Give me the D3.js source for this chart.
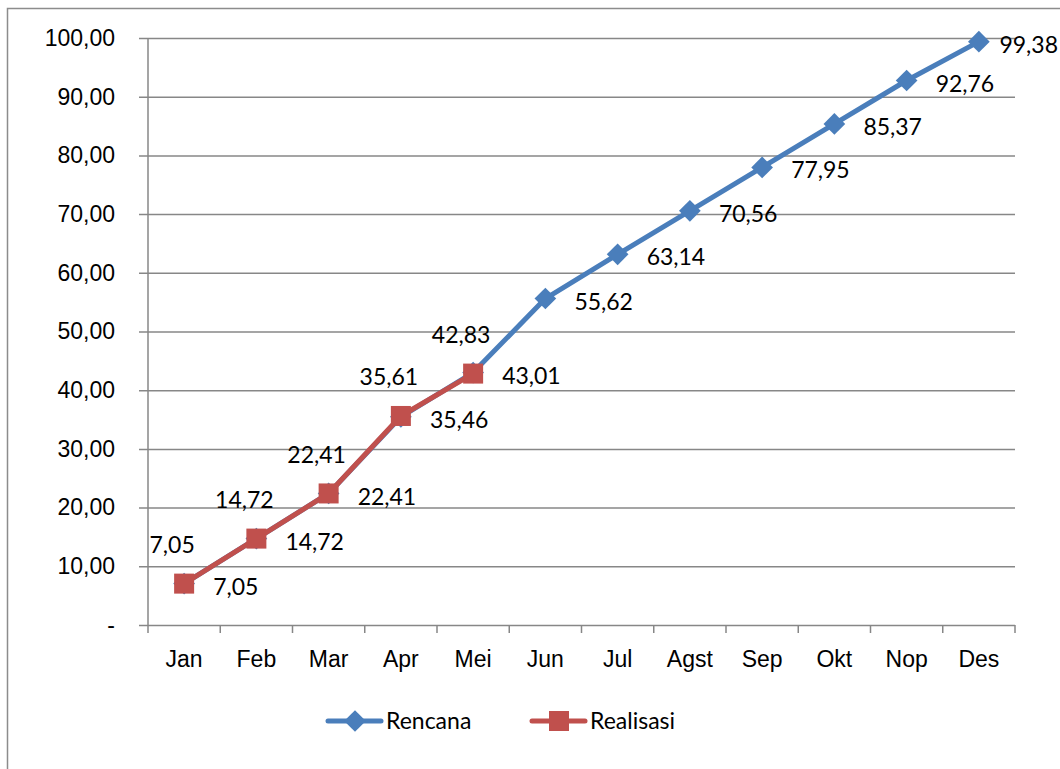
<!DOCTYPE html>
<html>
<head>
    <style>
        body {
            margin: 0;
            background: white;
            font-family: Lato, "Open Sans", sans-serif;
        }
        .tick text {
            font-size: 23px;
            fill: #000;
        }
        .lbl {
            font-size: 23px;
            fill: #000;
        }
    </style>
</head>
<body>
    <div id="chart"></div>
    <script src="https://cdnjs.cloudflare.com/ajax/libs/d3/7.8.5/d3.min.js"></script>
    <script>
        const months = ["Jan", "Feb", "Mar", "Apr", "Mei", "Jun", "Jul", "Agst", "Sep", "Okt", "Nop", "Des"];
        const rencana = [7.05, 14.72, 22.41, 35.46, 43.01, 55.62, 63.14, 70.56, 77.95, 85.37, 92.76, 99.38];
        const realisasi = [7.05, 14.72, 22.41, 35.61, 42.83];
        const yTicks = [0, 10, 20, 30, 40, 50, 60, 70, 80, 90, 100];

        const blue = "#4a7ebb";
        const red = "#c0504d";
        const grid = "#878787";

        const W = 1060, H = 769;
        const margin = { top: 38, right: 45, bottom: 144, left: 148 };
        const width = W - margin.left - margin.right;
        const height = H - margin.top - margin.bottom;

        const fmt = v => v === 0 ? "-" : v.toFixed(2).replace(".", ",");

        const root = d3.select("#chart").append("svg")
            .attr("width", W)
            .attr("height", H);

        // outer frame
        root.append("rect")
            .attr("x", 7.5).attr("y", 8.5)
            .attr("width", W).attr("height", H)
            .attr("fill", "none")
            .attr("stroke", "#8c8c8c")
            .attr("stroke-width", 1.5);

        const svg = root.append("g")
            .attr("transform", `translate(${margin.left},${margin.top})`);

        const x = d3.scaleBand().domain(months).range([0, width]);
        const y = d3.scaleLinear().domain([0, 100]).range([height, 0]);
        const cx = m => x(m) + x.bandwidth() / 2;

        // y axis + gridlines
        const yAxis = svg.append("g")
            .call(d3.axisLeft(y).tickValues(yTicks).tickFormat(fmt).tickSize(0).tickPadding(33));
        yAxis.select(".domain").remove();
        yAxis.selectAll(".tick line").remove();
        yAxis.selectAll(".tick").append("line")
            .attr("x1", -9).attr("x2", width)
            .attr("stroke", grid).attr("stroke-width", 1.5);

        svg.append("line")
            .attr("x1", 0).attr("x2", 0)
            .attr("y1", 0).attr("y2", height)
            .attr("stroke", grid).attr("stroke-width", 1.5);

        // x axis
        const xAxis = svg.append("g")
            .attr("transform", `translate(0,${height})`)
            .call(d3.axisBottom(x).tickSize(0).tickPadding(26));
        xAxis.select(".domain").remove();
        const bounds = months.map(m => x(m)).concat([width]);
        xAxis.selectAll(".bnd")
            .data(bounds)
            .enter().append("line")
            .attr("x1", d => d).attr("x2", d => d)
            .attr("y1", 0).attr("y2", 8)
            .attr("stroke", grid).attr("stroke-width", 1.5);

        const line = d3.line()
            .x((d, i) => cx(months[i]))
            .y(d => y(d));

        // Rencana
        svg.append("path")
            .datum(rencana)
            .attr("d", line)
            .attr("fill", "none")
            .attr("stroke", blue)
            .attr("stroke-width", 5)
            .attr("stroke-linejoin", "round");

        const diamond = d3.symbol().type(d3.symbolDiamond2).size(300);
        svg.selectAll(".dia")
            .data(rencana)
            .enter().append("path")
            .attr("d", diamond)
            .attr("transform", (d, i) => `translate(${cx(months[i])},${y(d)})`)
            .attr("fill", blue);

        // Realisasi
        svg.append("path")
            .datum(realisasi)
            .attr("d", line)
            .attr("fill", "none")
            .attr("stroke", red)
            .attr("stroke-width", 5)
            .attr("stroke-linejoin", "round");

        svg.selectAll(".sq")
            .data(realisasi)
            .enter().append("rect")
            .attr("x", (d, i) => cx(months[i]) - 10)
            .attr("y", d => y(d) - 10)
            .attr("width", 20).attr("height", 20)
            .attr("fill", red);

        // labels (pushed left when they would run off the right edge)
        const maxRight = W - margin.left - 2;
        svg.selectAll(".lblR")
            .data(rencana)
            .enter().append("text")
            .attr("class", "lbl")
            .attr("y", d => y(d) + 3)
            .attr("dy", "0.35em")
            .text(d => fmt(d))
            .attr("x", function(d, i) {
                const w = this.getComputedTextLength();
                return Math.min(cx(months[i]) + 29, maxRight - w);
            });

        svg.selectAll(".lblZ")
            .data(realisasi)
            .enter().append("text")
            .attr("class", "lbl")
            .attr("text-anchor", "middle")
            .attr("x", (d, i) => cx(months[i]) - 12)
            .attr("y", d => y(d) - 39)
            .attr("dy", "0.35em")
            .text(d => fmt(d));

        // legend
        const legendItems = [
            { name: "Rencana", color: blue, shape: "diamond", x: 328 },
            { name: "Realisasi", color: red, shape: "square", x: 532 }
        ];
        const lg = root.append("g").attr("transform", "translate(0,721)");
        legendItems.forEach(it => {
            lg.append("line")
                .attr("x1", it.x).attr("x2", it.x + 53)
                .attr("stroke", it.color).attr("stroke-width", 5)
                .attr("stroke-linecap", "round");
            if (it.shape === "diamond") {
                lg.append("path")
                    .attr("d", diamond)
                    .attr("transform", `translate(${it.x + 27},0)`)
                    .attr("fill", it.color);
            } else {
                lg.append("rect")
                    .attr("x", it.x + 17).attr("y", -10)
                    .attr("width", 20).attr("height", 20)
                    .attr("fill", it.color);
            }
            lg.append("text")
                .attr("class", "lbl")
                .attr("x", it.x + 58)
                .attr("dy", "0.35em")
                .text(it.name);
        });
    </script>
</body>
</html>
